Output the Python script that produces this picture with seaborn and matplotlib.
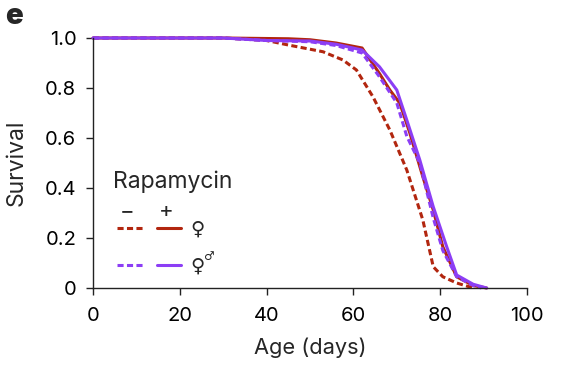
import numpy as np
import pandas as pd
import matplotlib
matplotlib.use("Agg")
import matplotlib.pyplot as plt
import seaborn as sns
from matplotlib.lines import Line2D

# ---- data ----
f_ctrl_age = [0, 30, 40, 45, 53, 57.6, 60.7, 64.5, 68.4, 72.3, 76, 78.4, 80.6, 83.8, 87.6]
f_ctrl_surv = [1, 1, 0.99, 0.972, 0.945, 0.912, 0.872, 0.765, 0.632, 0.472, 0.272, 0.085, 0.045, 0.02, 0]

f_rapa_age = [0, 30, 45, 50, 56, 62, 66, 68.4, 70.7, 73, 76, 78.4, 80.6, 83.8, 87.6, 90.7]
f_rapa_surv = [1, 1, 0.997, 0.993, 0.98, 0.96, 0.858, 0.792, 0.739, 0.62, 0.445, 0.312, 0.165, 0.045, 0.01, 0]

m_ctrl_age = [0, 30, 40, 50, 56, 62, 66, 70, 72.3, 75.3, 78.4, 80.6, 83.8, 87.6, 89.5]
m_ctrl_surv = [1, 1, 0.99, 0.985, 0.97, 0.94, 0.845, 0.74, 0.607, 0.5, 0.28, 0.15, 0.045, 0.01, 0]

m_rapa_age = [0, 30, 40, 50, 56, 62, 66, 70, 72.3, 75.3, 78.4, 81.5, 83.8, 87.6, 90.7]
m_rapa_surv = [1, 1, 0.99, 0.988, 0.975, 0.952, 0.885, 0.792, 0.672, 0.512, 0.325, 0.165, 0.052, 0.015, 0]

x_ticks = [0, 20, 40, 60, 80, 100]
y_ticks = [0, 0.2, 0.4, 0.6, 0.8, 1.0]
y_tick_labels = ["0", "0.2", "0.4", "0.6", "0.8", "1.0"]

RED = "#B2260F"
PURPLE = "#8C3EF5"

frames = []
for age, surv, grp, rap in [
    (f_ctrl_age, f_ctrl_surv, "F", "-"),
    (f_rapa_age, f_rapa_surv, "F", "+"),
    (m_ctrl_age, m_ctrl_surv, "FM", "-"),
    (m_rapa_age, m_rapa_surv, "FM", "+"),
]:
    frames.append(pd.DataFrame({"age": age, "surv": surv, "group": grp, "rapa": rap}))
df = pd.concat(frames, ignore_index=True)

sns.set_theme(style="ticks")
plt.rcParams["font.family"] = ["Inter", "DejaVu Sans"]

fig = plt.figure(figsize=(5.78, 3.66), dpi=100)
ax = fig.add_axes([93 / 578, 1 - 288 / 366, (527 - 93) / 578, (288 - 38) / 366])

LW = 2.2
dash = (2.0, 1.1)
sns.lineplot(
    data=df, x="age", y="surv", hue="group", style="rapa",
    hue_order=["F", "FM"], style_order=["+", "-"],
    palette={"F": RED, "FM": PURPLE},
    dashes={"+": "", "-": dash},
    linewidth=LW, estimator=None, sort=False, legend=False, ax=ax,
)
for ln in ax.get_lines():
    ln.set_clip_on(False)

ax.set_xlim(0, 100)
ax.set_ylim(0, 1)
ax.set_xticks(x_ticks)
ax.set_xticklabels([str(t) for t in x_ticks])
ax.set_yticks(y_ticks)
ax.set_yticklabels(y_tick_labels)
ax.tick_params(axis="both", direction="out", length=5, width=1, labelsize=14.5,
               color="#222222", labelcolor="black", pad=7)
ax.tick_params(axis="x", pad=8.5)
for s in ["top", "right"]:
    ax.spines[s].set_visible(False)
for s in ["left", "bottom"]:
    ax.spines[s].set_color("#222222")
    ax.spines[s].set_linewidth(1)
ax.set_xlabel("Age (days)", fontsize=15.7)
ax.set_ylabel("Survival", fontsize=16.5)
ax.xaxis.set_label_coords(0.5, (288 - 338) / 250)
ax.yaxis.set_label_coords((28 - 93) / 434, 0.5)

# ---- custom legend ----
def ax_pt(px, py):
    return ((px - 93) / (527 - 93), (288 - py) / (288 - 38))

tx, ty = ax_pt(113, 182)
ax.text(tx, ty, "Rapamycin", transform=ax.transAxes, fontsize=16.5, va="center", ha="left")
for sym, px, fs in [("\u2212", 127, 16), ("+", 166, 16)]:
    x0, y0 = ax_pt(px, 211)
    ax.text(x0, y0, sym, transform=ax.transAxes, fontsize=fs, va="center", ha="center")

for py, col, lab in [(228, RED, "\u2640"), (265, PURPLE, None)]:
    a0 = ax_pt(117, py)
    a1 = ax_pt(143, py)
    b0 = ax_pt(157, py)
    b1 = ax_pt(181, py)
    ax.add_line(Line2D([a0[0], a1[0]], [a0[1], a1[1]], transform=ax.transAxes, color=col,
                       lw=LW, linestyle=(0, dash)))
    ax.add_line(Line2D([b0[0], b1[0]], [b0[1], b1[1]], transform=ax.transAxes, color=col, lw=LW))
    sx, sy = ax_pt(190, py + 1)
    ax.text(sx, sy, "\u2640", transform=ax.transAxes, fontsize=14, va="center", ha="left",
            family=["DejaVu Sans"])
    if lab is None:
        mx, my = ax_pt(203, py - 9)
        ax.text(mx, my, "\u2642", transform=ax.transAxes, fontsize=8.5, va="center", ha="left",
                family=["DejaVu Sans"])

fig.text(5 / 578, 1 - 16 / 366, "e", fontsize=21, fontweight="black", va="center", ha="left")

fig.savefig("out.png", dpi=100)
